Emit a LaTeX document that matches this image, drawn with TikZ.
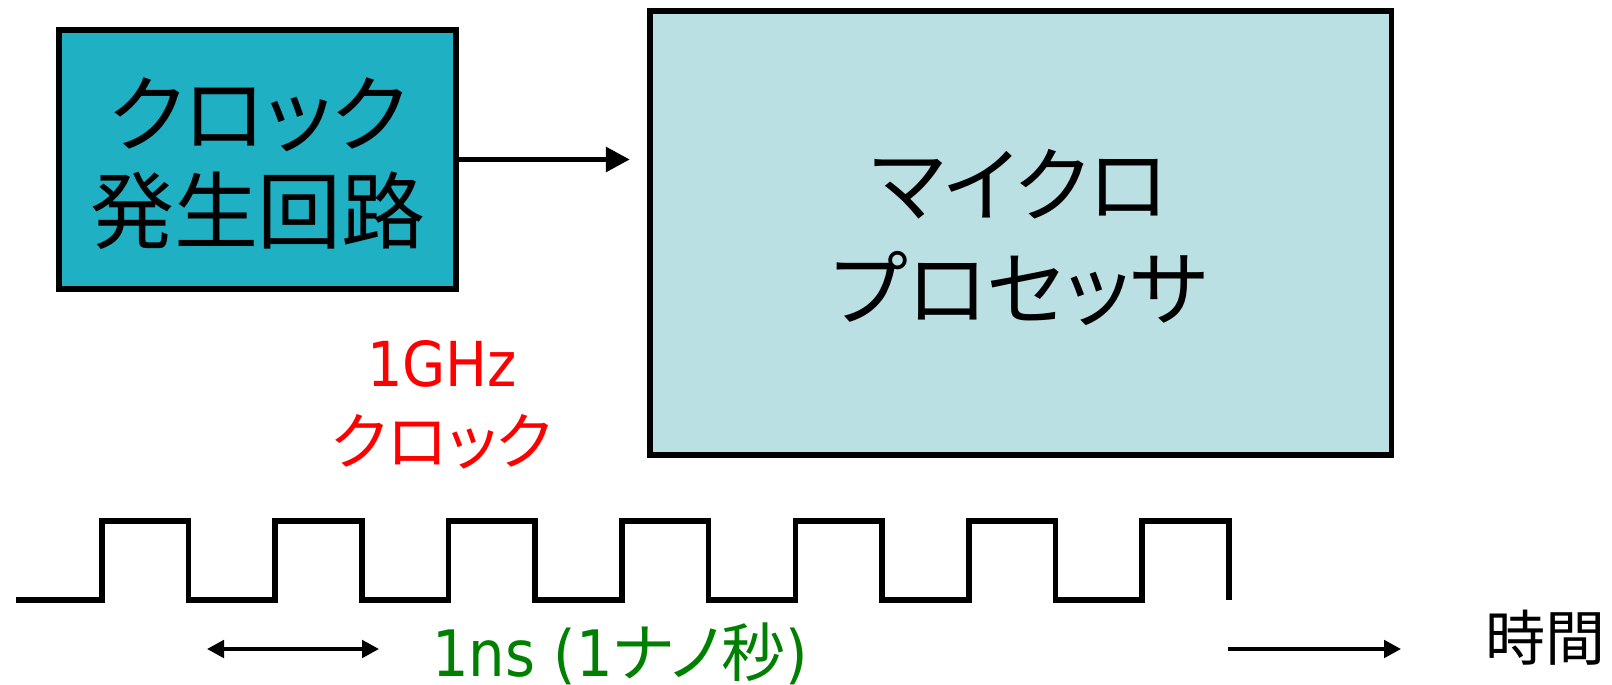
\documentclass[tikz,border=0pt]{standalone}
\usepackage{fontspec}
\setmainfont{Noto Sans CJK JP}[RawFeature=+palt]
\newfontfamily\latinfont{DejaVu Sans Condensed}
\usetikzlibrary{arrows.meta}
\definecolor{clockfill}{RGB}{32,176,196}
\definecolor{procfill}{RGB}{187,224,227}
\definecolor{labelred}{RGB}{255,0,0}
\definecolor{labelgreen}{RGB}{0,128,0}
\begin{document}
\begin{tikzpicture}[x=0.5pt,y=-0.5pt,
  block/.style={draw=black,line width=2.8pt,inner sep=0pt},
  blocktext/.style={align=center,inner sep=0pt},
  wave/.style={line width=2.8pt},
  thinarrow/.style={line width=1.9pt},
  tipsmall/.tip={Triangle[length=8.5pt,width=8.7pt]},
  tipbig/.tip={Triangle[length=12pt,width=12pt]}]
\useasboundingbox (0,0) rectangle (1612,685);
\fill[white] (0,0) rectangle (1612,685);

\node[block,fill=clockfill,minimum width=198.5pt,minimum height=129.7pt] (clock) at (257.75,159.5) {};
\node[blocktext,font=\fontsize{42}{48.5}\selectfont] (clocklabel) at (258,163.5) {クロック\\発生回路};

\node[block,fill=procfill,minimum width=370.8pt,minimum height=221.8pt] (proc) at (1020.5,233) {};
\node[blocktext,font=\fontsize{41}{52}\selectfont] (proclabel) at (1019.5,237.5) {マイクロ\\プロセッサ};

\draw[line width=2.8pt,-tipbig,shorten >=8.5pt] (clock.east) -- (clock.east -| proc.west);

\node[text=labelred,align=center,font=\fontsize{31}{38.75}\selectfont] (ghz) at (442,405) {{\latinfont 1GHz}\\クロック};

\draw[wave] (16,600) \foreach \k in {0,...,6} { -- ({101.7+173.4*\k},600) -- ({101.7+173.4*\k},521) -- ({188.4+173.4*\k},521) -- ({188.4+173.4*\k},600) };

\coordinate (pA) at (207,649);
\coordinate (pB) at (379,649);
\draw[thinarrow,tipsmall-tipsmall] (pA) -- (pB);

\node[text=labelgreen,anchor=base,font=\fontsize{32}{38}\selectfont] (ns) at (620,676) {{\latinfont 1ns (1}ナノ秒{\latinfont )}};

\coordinate (t0) at (1228,649);
\coordinate (t1) at (1401,649);
\draw[thinarrow,-tipsmall] (t0) -- (t1);

\node[font=\fontsize{30}{36}\selectfont] (time) at (1545,638) {時間};
\end{tikzpicture}
\end{document}
